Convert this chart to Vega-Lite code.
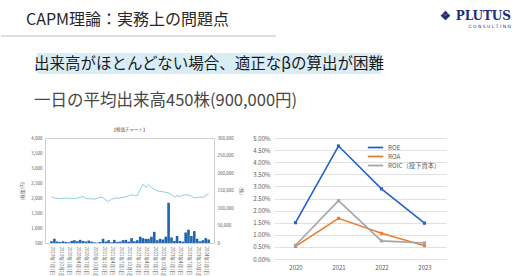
{
  "$schema": "https://vega.github.io/schema/vega-lite/v6.json",
  "background": "white",
  "padding": {"left": 0, "top": 9, "right": 2, "bottom": 0},
  "config": {
    "font": "Noto Sans CJK JP",
    "view": {"stroke": null},
    "title": {"fontWeight": "normal"}
  },
  "spacing": 16,
  "vconcat": [
    {
      "bounds": "flush",
      "spacing": 168,
      "hconcat": [
        {
          "width": 275,
          "height": 1,
          "title": {"text": "CAPM理論：実務上の問題点", "fontSize": 16, "color": "#262626", "anchor": "start", "frame": "group", "dx": 25, "offset": 8},
          "data": {"values": [{}]},
          "mark": {"type": "rule", "color": "#bfbfbf", "strokeWidth": 1},
          "encoding": {"y": {"value": 0}, "x": {"value": 0}, "x2": {"value": "width"}}
        },
        {
          "width": 67,
          "height": 1,
          "title": {"text": "❖ PLUTUS", "subtitle": "C  O  N  S  U  L  T  I  N  G", "font": "DejaVu Serif", "fontWeight": "bold", "fontSize": 12, "color": "#1f2d7a", "subtitleFont": "DejaVu Sans", "subtitleFontSize": 4.5, "subtitleColor": "#1f2d7a", "anchor": "end", "frame": "group", "offset": 7, "subtitlePadding": 1},
          "data": {"values": [{}]},
          "mark": {"type": "rule", "strokeOpacity": 0},
          "encoding": {"y": {"value": 0}, "x": {"value": 0}, "x2": {"value": "width"}}
        }
      ]
    },
    {
      "bounds": "flush",
      "spacing": 35,
      "hconcat": [
        {
          "width": 1,
          "height": 23,
          "data": {"values": [{}]},
          "mark": {"type": "rule", "strokeOpacity": 0},
          "encoding": {"y": {"value": 0}, "x": {"value": 0}, "x2": {"value": "width"}}
        },
        {
          "width": 344,
          "height": 21,
          "view": {"fill": "#d9edf7", "stroke": null},
          "data": {"values": [{"t": "出来高がほとんどない場合、適正なβの算出が困難"}]},
          "mark": {"type": "text", "fontSize": 15.5, "color": "#1a1a1a"},
          "encoding": {"text": {"field": "t"}}
        }
      ]
    },
    {
      "spacing": 17,
      "title": {"text": "一日の平均出来高450株(900,000円)", "fontSize": 16.5, "color": "#484848", "anchor": "start", "frame": "group", "dx": 33, "offset": 17},
      "hconcat": [
        {
          "width": 1,
          "height": 1,
          "data": {"values": [{}]},
          "mark": {"type": "rule", "strokeOpacity": 0},
          "encoding": {"y": {"value": 0}, "x": {"value": 0}, "x2": {"value": "width"}}
        },
        {
          "bounds": "flush",
          "spacing": 60,
          "resolve": {"scale": {"color": "independent"}, "legend": {"color": "independent"}},
          "hconcat": [
            {
              "width": 169,
              "height": 105,
              "view": {"stroke": "#d0d0d0"},
              "title": {"text": "【株価チャート】", "fontSize": 4.5, "color": "#595959", "anchor": "middle", "offset": 4},
              "data": {"values": [
                {"date": "2019-07-01", "price": 2040, "volume": 5000},
                {"date": "2019-08-01", "price": 2000, "volume": 12000},
                {"date": "2019-09-01", "price": 1990, "volume": 4000},
                {"date": "2019-10-01", "price": 1980, "volume": 3000},
                {"date": "2019-11-01", "price": 1990, "volume": 5000},
                {"date": "2019-12-01", "price": 2000, "volume": 3000},
                {"date": "2020-01-01", "price": 1990, "volume": 2000},
                {"date": "2020-02-01", "price": 1980, "volume": 6000},
                {"date": "2020-03-01", "price": 1985, "volume": 8000},
                {"date": "2020-04-01", "price": 1990, "volume": 5000},
                {"date": "2020-05-01", "price": 2030, "volume": 9000},
                {"date": "2020-06-01", "price": 2050, "volume": 6000},
                {"date": "2020-07-01", "price": 1990, "volume": 4000},
                {"date": "2020-08-01", "price": 1980, "volume": 7000},
                {"date": "2020-09-01", "price": 1970, "volume": 4000},
                {"date": "2020-10-01", "price": 1965, "volume": 2000},
                {"date": "2020-11-01", "price": 1990, "volume": 1000},
                {"date": "2020-12-01", "price": 2030, "volume": 3000},
                {"date": "2021-01-01", "price": 2010, "volume": 12000},
                {"date": "2021-02-01", "price": 1930, "volume": 4000},
                {"date": "2021-03-01", "price": 1880, "volume": 8000},
                {"date": "2021-04-01", "price": 1960, "volume": 2000},
                {"date": "2021-05-01", "price": 1990, "volume": 9000},
                {"date": "2021-06-01", "price": 2000, "volume": 3000},
                {"date": "2021-07-01", "price": 2000, "volume": 4000},
                {"date": "2021-08-01", "price": 2020, "volume": 8000},
                {"date": "2021-09-01", "price": 2040, "volume": 9000},
                {"date": "2021-10-01", "price": 2070, "volume": 4000},
                {"date": "2021-11-01", "price": 2110, "volume": 14000},
                {"date": "2021-12-01", "price": 2080, "volume": 5000},
                {"date": "2022-01-01", "price": 2080, "volume": 8000},
                {"date": "2022-02-01", "price": 2280, "volume": 18000},
                {"date": "2022-03-01", "price": 2460, "volume": 14000},
                {"date": "2022-04-01", "price": 2350, "volume": 12000},
                {"date": "2022-05-01", "price": 2440, "volume": 12000},
                {"date": "2022-06-01", "price": 2350, "volume": 18000},
                {"date": "2022-07-01", "price": 2290, "volume": 32000},
                {"date": "2022-08-01", "price": 2240, "volume": 8000},
                {"date": "2022-09-01", "price": 2220, "volume": 12000},
                {"date": "2022-10-01", "price": 2210, "volume": 10000},
                {"date": "2022-11-01", "price": 2190, "volume": 18000},
                {"date": "2022-12-01", "price": 2170, "volume": 115000},
                {"date": "2023-01-01", "price": 2110, "volume": 16000},
                {"date": "2023-02-01", "price": 2030, "volume": 6000},
                {"date": "2023-03-01", "price": 2080, "volume": 20000},
                {"date": "2023-04-01", "price": 2050, "volume": 6000},
                {"date": "2023-05-01", "price": 2090, "volume": 4000},
                {"date": "2023-06-01", "price": 2110, "volume": 30000},
                {"date": "2023-07-01", "price": 2100, "volume": 38000},
                {"date": "2023-08-01", "price": 2060, "volume": 20000},
                {"date": "2023-09-01", "price": 2000, "volume": 34000},
                {"date": "2023-10-01", "price": 2020, "volume": 12000},
                {"date": "2023-11-01", "price": 2030, "volume": 5000},
                {"date": "2023-12-01", "price": 2020, "volume": 8000},
                {"date": "2024-01-01", "price": 2080, "volume": 14000},
                {"date": "2024-02-01", "price": 2130, "volume": 10000}
              ]},
              "encoding": {
                "x": {
                  "field": "date",
                  "type": "temporal",
                  "scale": {"type": "utc", "domain": [{"year": 2019, "month": 6, "date": 15, "utc": true}, {"year": 2024, "month": 2, "date": 5, "utc": true}]},
                  "axis": {
                    "values": [
                      {"year": 2019, "month": 7, "date": 1, "utc": true},
                      {"year": 2019, "month": 10, "date": 1, "utc": true},
                      {"year": 2020, "month": 1, "date": 1, "utc": true},
                      {"year": 2020, "month": 4, "date": 1, "utc": true},
                      {"year": 2020, "month": 7, "date": 1, "utc": true},
                      {"year": 2020, "month": 10, "date": 1, "utc": true},
                      {"year": 2021, "month": 1, "date": 1, "utc": true},
                      {"year": 2021, "month": 4, "date": 1, "utc": true},
                      {"year": 2021, "month": 7, "date": 1, "utc": true},
                      {"year": 2021, "month": 10, "date": 1, "utc": true},
                      {"year": 2022, "month": 1, "date": 1, "utc": true},
                      {"year": 2022, "month": 4, "date": 1, "utc": true},
                      {"year": 2022, "month": 7, "date": 1, "utc": true},
                      {"year": 2022, "month": 10, "date": 1, "utc": true},
                      {"year": 2023, "month": 1, "date": 1, "utc": true},
                      {"year": 2023, "month": 4, "date": 1, "utc": true},
                      {"year": 2023, "month": 7, "date": 1, "utc": true},
                      {"year": 2023, "month": 10, "date": 1, "utc": true},
                      {"year": 2024, "month": 1, "date": 1, "utc": true}
                    ],
                    "format": "%Y年%-m月%-d日",
                    "labelAngle": 90,
                    "labelFontSize": 4.5,
                    "labelColor": "#595959",
                    "labelPadding": 3,
                    "labelOverlap": false,
                    "domain": false,
                    "ticks": false,
                    "grid": false,
                    "title": null
                  }
                }
              },
              "layer": [
                {
                  "mark": {"type": "bar", "color": "#1f64ad", "width": 2.6},
                  "encoding": {
                    "y": {
                      "field": "volume",
                      "type": "quantitative",
                      "scale": {"domain": [0, 300000], "nice": false},
                      "axis": {"orient": "right", "values": [0, 50000, 100000, 150000, 200000, 250000, 300000], "format": ",d", "labelFontSize": 4.5, "labelColor": "#595959", "labelPadding": 3, "domain": false, "ticks": false, "grid": false, "title": "(株)", "titleFontSize": 4.5, "titleColor": "#595959", "titleFontWeight": "normal", "titlePadding": 5}
                    }
                  }
                },
                {
                  "mark": {"type": "line", "color": "#8dd0d8", "strokeWidth": 1},
                  "encoding": {
                    "y": {
                      "field": "price",
                      "type": "quantitative",
                      "scale": {"domain": [500, 4000], "nice": false, "zero": false},
                      "axis": {"orient": "left", "values": [500, 1000, 1500, 2000, 2500, 3000, 3500, 4000], "format": ",d", "labelFontSize": 4.5, "labelColor": "#595959", "labelPadding": 3, "domain": false, "ticks": false, "grid": false, "title": "(株価/円)", "titleFontSize": 4.5, "titleColor": "#595959", "titleFontWeight": "normal", "titlePadding": 6}
                    }
                  }
                }
              ],
              "resolve": {"scale": {"y": "independent"}}
            },
            {
              "width": 172,
              "height": 121,
              "data": {"values": [
                {"year": "2020", "metric": "ROE", "value": 0.015},
                {"year": "2021", "metric": "ROE", "value": 0.0467},
                {"year": "2022", "metric": "ROE", "value": 0.029},
                {"year": "2023", "metric": "ROE", "value": 0.0148},
                {"year": "2020", "metric": "ROA", "value": 0.0052},
                {"year": "2021", "metric": "ROA", "value": 0.0168},
                {"year": "2022", "metric": "ROA", "value": 0.0106},
                {"year": "2023", "metric": "ROA", "value": 0.0055},
                {"year": "2020", "metric": "ROIC（投下資本）", "value": 0.0057},
                {"year": "2021", "metric": "ROIC（投下資本）", "value": 0.0241},
                {"year": "2022", "metric": "ROIC（投下資本）", "value": 0.0075},
                {"year": "2023", "metric": "ROIC（投下資本）", "value": 0.0066}
              ]},
              "mark": {"type": "line", "strokeWidth": 1.6, "point": {"filled": true, "size": 10, "shape": "square"}},
              "encoding": {
                "x": {"field": "year", "type": "ordinal", "scale": {"type": "point", "padding": 0.5}, "axis": {"labelAngle": 0, "labelFontSize": 6, "labelColor": "#595959", "labelPadding": 5, "domain": false, "ticks": false, "grid": false, "title": null}},
                "y": {"field": "value", "type": "quantitative", "scale": {"domain": [0, 0.05], "nice": false}, "axis": {"values": [0, 0.005, 0.01, 0.015, 0.02, 0.025, 0.03, 0.035, 0.04, 0.045, 0.05], "format": ".2%", "labelFontSize": 6, "labelColor": "#595959", "labelPadding": 4, "domain": false, "ticks": false, "grid": true, "gridColor": "#d9d9d9", "gridWidth": 0.8, "title": null}},
                "color": {
                  "field": "metric",
                  "type": "nominal",
                  "scale": {"domain": ["ROE", "ROA", "ROIC（投下資本）"], "range": ["#2563c4", "#ed7d31", "#a5a5a5"]},
                  "legend": {"orient": "top-right", "offset": 5, "title": null, "labelFontSize": 6.3, "labelColor": "#595959", "symbolType": "M-2.2,0H2.2", "symbolSize": 49, "symbolStrokeWidth": 1.8, "rowPadding": 0, "labelOffset": 8, "padding": 0}
                }
              }
            }
          ]
        }
      ]
    }
  ]
}
